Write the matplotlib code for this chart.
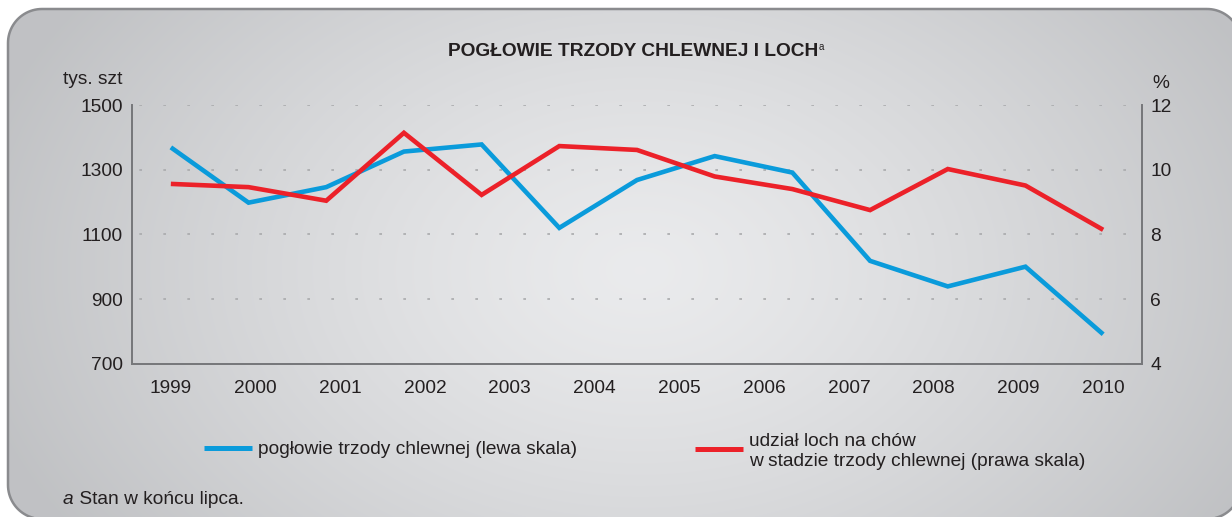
import numpy as np
import matplotlib
matplotlib.use('Agg')
import matplotlib.pyplot as plt
from matplotlib.patches import Polygon

plt.rcParams['font.family'] = ['Liberation Sans', 'DejaVu Sans']

# data
years = ['1999', '2000', '2001', '2002', '2003', '2004', '2005',
         '2006', '2007', '2008', '2009', '2010']
poglowie = [1369, 1198, 1246, 1356, 1378, 1120, 1268, 1342, 1291, 1018, 939, 1000, 791]
udzial_loch = [9.56, 9.46, 9.04, 11.14, 9.22, 10.73, 10.61, 9.79, 9.40, 8.75, 10.02, 9.51, 8.14]
left_ticks = [700, 900, 1100, 1300, 1500]
right_ticks = [4, 6, 8, 10, 12]

blue = '#0a9bdb'
red = '#ec2129'
txt = '#231f20'
fs = 13.75
W, H = 1232, 517


def py(y):
    # pixel row measured from the top -> bg axes coordinate
    return H - y


def rounded_rect(x0, y0, x1, y1, r, n=24):
    # outline of a rounded box, y measured from the top of the picture
    pts = []
    corners = [(x1 - r, y0 + r, -90, 0), (x1 - r, y1 - r, 0, 90),
               (x0 + r, y1 - r, 90, 180), (x0 + r, y0 + r, 180, 270)]
    for cx, cy, a0, a1 in corners:
        a = np.radians(np.linspace(a0, a1, n))
        for ai in a:
            pts.append((cx + r * np.cos(ai), py(cy + r * np.sin(ai))))
    return np.array(pts)


fig = plt.figure(figsize=(W / 100, H / 100), dpi=100)
fig.patch.set_facecolor('white')

# background panel
bg = fig.add_axes([0, 0, 1, 1])
bg.axis('off')

yy, xx = np.mgrid[0:H, 0:W]
d = np.sqrt(((xx - 640) / 680.0) ** 2 + ((yy - 270) / 470.0) ** 2)
d = np.clip(d, 0, 1)
c0 = np.array([0.918, 0.921, 0.928])
c1 = np.array([0.755, 0.76, 0.77])
img = c0 + (c1 - c0) * d[..., None] ** 1.3
im = bg.imshow(img, extent=(0, W, 0, H), origin='upper', aspect='auto',
               interpolation='bilinear')
panel = Polygon(rounded_rect(8, 9, 1241, 519, 34), closed=True, facecolor='none',
                edgecolor='#8a8b8e', linewidth=1.8)
bg.add_patch(panel)
im.set_clip_path(panel)
bg.set_xlim(0, W)
bg.set_ylim(0, H)

# title with superscript
t = bg.text(448, py(51), 'POGŁOWIE TRZODY CHLEWNEJ I LOCH', ha='left', va='center',
            fontsize=fs, fontweight='bold', color=txt)
bg.annotate('a', xy=(1, 1), xycoords=t, xytext=(0.5, 0.5), textcoords='offset points',
            ha='left', va='top', fontsize=7, color=txt)

bg.text(93, py(80), 'tys. szt', ha='center', va='center', fontsize=fs, color=txt)
bg.text(1161, py(83), '%', ha='center', va='center', fontsize=fs, color=txt)

# main axes
ax = fig.add_axes([132 / W, (H - 363.7) / H, (1142 - 132) / W, (363.7 - 105) / H])
ax.patch.set_visible(False)
x = np.arange(len(poglowie))
ax.plot(x, poglowie, color=blue, lw=3.3, solid_joinstyle='miter', solid_capstyle='butt')
ax.set_xlim(-0.5, 12.5)
ax.set_ylim(700, 1500)
ax.set_yticks(left_ticks)
ax.set_xticks(np.linspace(0, 12, len(years)))
ax.set_xticklabels(years)
ax.yaxis.grid(True, color='#a9aaac', linestyle=(10, (1.6, 12.8)), linewidth=1.2)
ax.tick_params(length=0, labelsize=fs, colors=txt)
ax.tick_params(axis='x', pad=12)
ax.tick_params(axis='y', pad=6.5)
for s in ['left', 'bottom', 'right']:
    ax.spines[s].set_color('#77787b')
    ax.spines[s].set_linewidth(1.3)
ax.spines['top'].set_visible(False)

ax2 = ax.twinx()
ax2.patch.set_visible(False)
ax2.plot(x, udzial_loch, color=red, lw=3.3, solid_joinstyle='miter', solid_capstyle='butt')
ax2.set_ylim(4, 12)
ax2.set_yticks(right_ticks)
ax2.tick_params(length=0, labelsize=fs, colors=txt, pad=6)
for s in ['left', 'bottom', 'right']:
    ax2.spines[s].set_color('#77787b')
    ax2.spines[s].set_linewidth(1.3)
ax2.spines['top'].set_visible(False)

# legend
bg.plot([204, 252], [py(448), py(448)], color=blue, lw=3.6, solid_capstyle='butt')
bg.text(258, py(450), 'pogłowie trzody chlewnej (lewa skala)', ha='left', va='center',
        fontsize=fs, color=txt)
bg.plot([695, 743], [py(449), py(449)], color=red, lw=3.6, solid_capstyle='butt')
bg.text(749, py(441), 'udział loch na chów', ha='left', va='center', fontsize=fs, color=txt)
bg.text(749, py(462), 'w stadzie trzody chlewnej (prawa skala)', ha='left', va='center',
        fontsize=fs, color=txt)

# footnote
fa = bg.text(63, py(500), 'a', ha='left', va='center', fontsize=fs, style='italic', color=txt)
bg.annotate(' Stan w końcu lipca.', xy=(1, 0.5), xycoords=fa, ha='left', va='center',
            fontsize=fs, color=txt)

fig.savefig('out.png', dpi=100)
